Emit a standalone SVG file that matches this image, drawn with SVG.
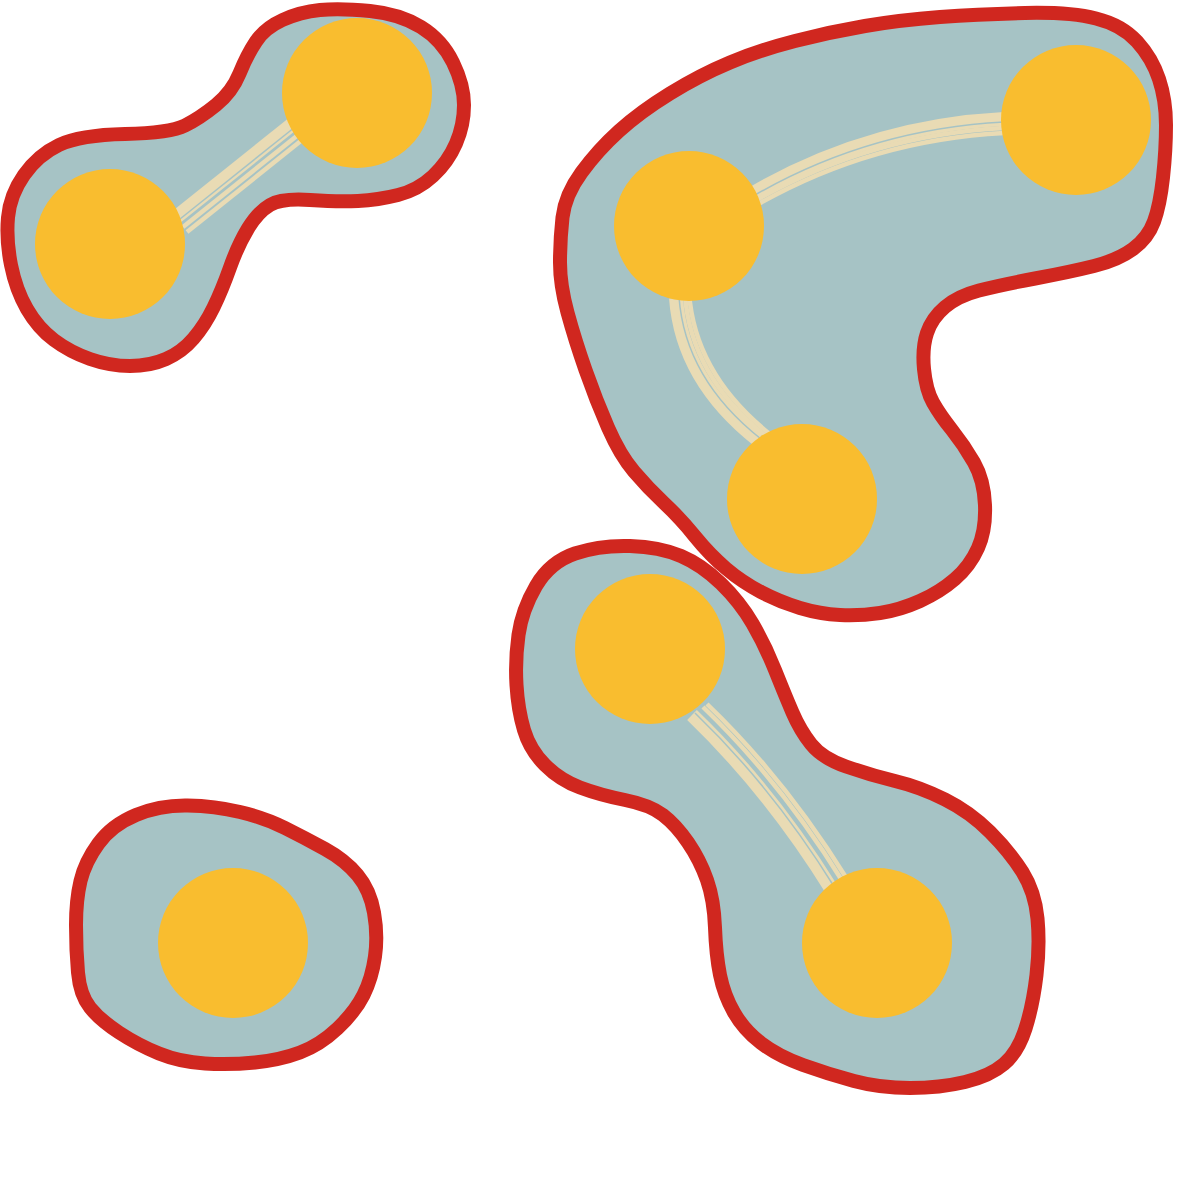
<svg xmlns="http://www.w3.org/2000/svg" width="1181" height="1181" viewBox="0 0 1181 1181">
<style>
.blob{fill:#a6c3c5;stroke:#d0271f;stroke-width:14;stroke-linejoin:round}
.node{fill:#f9bd2f}
.e1{fill:none;stroke:#e9dbb4;stroke-width:14;stroke-linecap:butt}
.e2{fill:none;stroke:#a6c3c5;stroke-width:1.5}
.e3{fill:none;stroke:#e9dbb4;stroke-width:4.5}
</style>
<rect width="1181" height="1181" fill="#ffffff"/>
<g id="groups">
<path id="group1" class="blob" d="M59,145 Q80,135 125,134 Q170,133 185,125.5 Q200,118 216,105 Q232,92 239.5,73.5 Q247,55 256,41.5 Q265,28 282.5,20 Q300,12 320,10 Q340,8 370,11 Q400,14 421,27 Q442,40 453,62.5 Q464,85 464,105 Q464,125 456,143.5 Q448,162 433,176 Q418,190 398,195 Q378,200 358,201 Q338,202 310,200 Q282,198 270,205 Q258,212 248,228.5 Q238,245 230,267.5 Q222,290 213.5,307.5 Q205,325 193.5,338.5 Q182,352 166,359 Q150,366 130,366 Q110,366 90,359 Q70,352 54,340 Q38,328 27,309 Q16,290 11,265 Q6,240 8,217.5 Q10,195 24,175 Q38,155 59,145 Z"/>
<path id="group2" class="blob" d="M560,262.5 Q560,240 562.5,217.5 Q565,195 581.5,172.5 Q598,150 619,131 Q640,112 670,93.5 Q700,75 730,62.5 Q760,50 795,41 Q830,32 865,26 Q900,20 940,17 Q980,14 1025,13 Q1070,12 1096,18.5 Q1122,25 1137,41.5 Q1152,58 1159,79 Q1166,100 1166,125 Q1166,150 1163,177.5 Q1160,205 1154,221.5 Q1148,238 1133,249 Q1118,260 1094,266 Q1070,272 1035,278.5 Q1000,285 979,290.5 Q958,296 945,307 Q932,318 927,333 Q922,348 924,369 Q926,390 933,402.5 Q940,415 952,430 Q964,445 974,462.5 Q984,480 985,505 Q986,530 978,548 Q970,566 955,579 Q940,592 920,601 Q900,610 880,613 Q860,616 840,615 Q820,614 800,608 Q780,602 761,592 Q742,582 726,568.5 Q710,555 695,536.5 Q680,518 664,503 Q648,488 634,471.5 Q620,455 608,427.5 Q596,400 585.5,370 Q575,340 567.5,312.5 Q560,285 560,262.5 Z"/>
<path id="group3" class="blob" d="M516.5,685 Q515,660 518.5,635 Q522,610 536,586 Q550,562 575,553.5 Q600,545 630,546 Q660,547 681,556 Q702,565 721,583.5 Q740,602 752.5,623.5 Q765,645 775,670 Q785,695 792.5,712.5 Q800,730 811,744 Q822,758 846,766.5 Q870,775 895,781 Q920,787 945,799.5 Q970,812 990,832 Q1010,852 1022.5,872 Q1035,892 1037.5,918.5 Q1040,945 1036.5,975 Q1033,1005 1025.5,1028.5 Q1018,1052 1004,1064 Q990,1076 965,1082 Q940,1088 910,1088 Q880,1088 854,1081 Q828,1074 803,1065 Q778,1056 761,1043 Q744,1030 734,1012.5 Q724,995 720,975 Q716,955 715,927.5 Q714,900 707,880 Q700,860 688,842.5 Q676,825 663,815 Q650,805 625,800 Q600,795 580,787.5 Q560,780 545,765 Q530,750 524,730 Q518,710 516.5,685 Z"/>
<path id="group4" class="blob" d="M76,925 Q76,900 80.5,881 Q85,862 98.5,843.5 Q112,825 136,815 Q160,805 187.5,805.5 Q215,806 240,812 Q265,818 285,828 Q305,838 325,849 Q345,860 357.5,875 Q370,890 374,912.5 Q378,935 375,956.5 Q372,978 363.5,995 Q355,1012 337.5,1028.5 Q320,1045 300,1052.5 Q280,1060 255,1062.5 Q230,1065 205,1063.5 Q180,1062 159,1053.5 Q138,1045 119,1032.5 Q100,1020 90,1007.5 Q80,995 78,972.5 Q76,950 76,925 Z"/>
</g>
<g id="connectors">
<g id="edge-A-B">
<path class="e1" d="M175,218 L295,122"/>
<path class="e2" d="M175,218 L295,122" transform="translate(2.5,3)"/>
<path class="e3" d="M175,218 L295,122" transform="translate(8,9)"/>
<path class="e3" d="M175,218 L295,122" transform="translate(12,14)"/>
</g>
<g id="edge-C-D">
<path class="e1" d="M755,192 Q870,126 1004,119"/>
<path class="e2" d="M755,192 Q870,126 1004,119" transform="translate(0,3)"/>
<path class="e3" d="M755,192 Q870,126 1004,119" transform="translate(0,9)"/>
<path class="e3" d="M755,192 Q870,126 1004,119" transform="translate(0,14)"/>
</g>
<g id="edge-C-E">
<path class="e1" d="M676,298 Q682,380 758,440"/>
<path class="e2" d="M676,298 Q682,380 758,440" transform="translate(3,-1)"/>
<path class="e3" d="M676,298 Q682,380 758,440" transform="translate(9,-3)"/>
<path class="e3" d="M676,298 Q682,380 758,440" transform="translate(13,-5)"/>
</g>
<g id="edge-F-G">
<path class="e1" d="M692,715 Q770,790 832,890"/>
<path class="e2" d="M692,715 Q770,790 832,890" transform="translate(3,-2)"/>
<path class="e3" d="M692,715 Q770,790 832,890" transform="translate(11,-8)"/>
<path class="e3" d="M692,715 Q770,790 832,890" transform="translate(15,-11)"/>
</g>
</g>
<g id="nodes">
<circle id="nodeA" class="node" cx="110" cy="244" r="75"/>
<circle id="nodeB" class="node" cx="357" cy="93" r="75"/>
<circle id="nodeC" class="node" cx="689" cy="226" r="75"/>
<circle id="nodeD" class="node" cx="1076" cy="120" r="75"/>
<circle id="nodeE" class="node" cx="802" cy="499" r="75"/>
<circle id="nodeF" class="node" cx="650" cy="649" r="75"/>
<circle id="nodeG" class="node" cx="877" cy="943" r="75"/>
<circle id="nodeH" class="node" cx="233" cy="943" r="75"/>
</g>
</svg>
